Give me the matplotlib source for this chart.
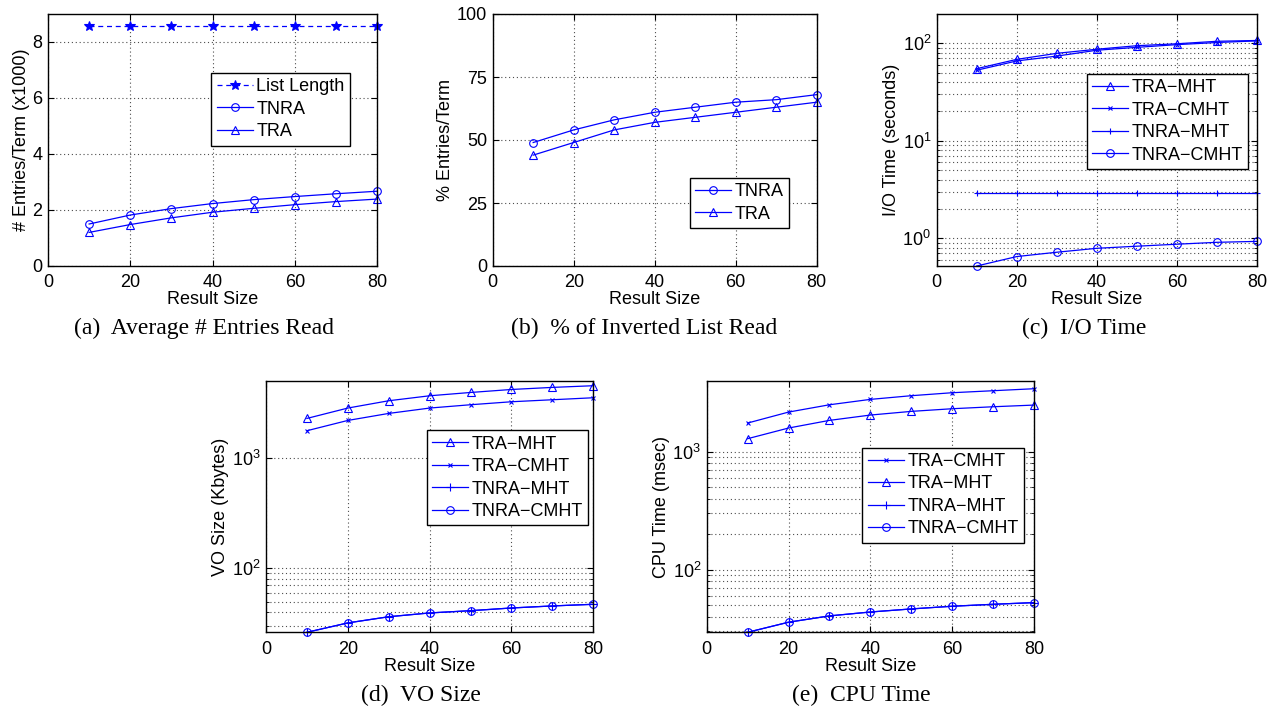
import matplotlib
matplotlib.use("Agg")
import matplotlib.pyplot as plt
from matplotlib.ticker import FixedLocator, NullFormatter, LogLocator

plt.rcParams['font.family'] = ['Liberation Sans', 'DejaVu Sans']
plt.rcParams['mathtext.fontset'] = 'custom'
plt.rcParams['mathtext.rm'] = 'Liberation Sans'

# ---------------- data ----------------
result_size = [10, 20, 30, 40, 50, 60, 70, 80]

# (a) average # entries read (x1000)
a_list_length = [8.57, 8.57, 8.57, 8.57, 8.57, 8.57, 8.57, 8.57]
a_tnra = [1.50, 1.82, 2.05, 2.23, 2.37, 2.48, 2.58, 2.67]
a_tra = [1.20, 1.48, 1.72, 1.92, 2.06, 2.19, 2.30, 2.39]

# (b) % of inverted list read
b_tnra = [49, 54, 58, 61, 63, 65, 66, 68]
b_tra = [44, 49, 54, 57, 59, 61, 63, 65]

# (c) I/O time (seconds)
c_tra_mht = [55, 68.5, 79, 87, 94.6, 99, 105, 107]
c_tra_cmht = [53, 66, 74, 85, 91, 97, 102, 106]
c_tnra_mht = [2.94, 2.94, 2.94, 2.94, 2.94, 2.94, 2.94, 2.94]
c_tnra_cmht = [0.52, 0.65, 0.72, 0.79, 0.83, 0.87, 0.91, 0.93]

# (d) VO size (Kbytes)
d_tra_mht = [2266, 2812, 3274, 3631, 3890, 4140, 4323, 4477]
d_tra_cmht = [1754, 2173, 2515, 2812, 3013, 3206, 3343, 3485]
d_tnra_mht = [26.4, 32.1, 36.5, 39.5, 41.4, 43.8, 45.7, 47.3]
d_tnra_cmht = [26.4, 32.1, 36.5, 39.5, 41.4, 43.8, 45.7, 47.3]

# (e) CPU time (msec)
e_tra_cmht = [1750, 2167, 2500, 2777, 2984, 3163, 3289, 3420]
e_tra_mht = [1289, 1587, 1843, 2045, 2197, 2314, 2405, 2485]
e_tnra_mht = [29.4, 35.8, 40.5, 43.7, 46.4, 48.9, 50.8, 52.5]
e_tnra_cmht = [29.4, 35.8, 40.5, 43.7, 46.4, 48.9, 50.8, 52.5]

x_ticks = [0, 20, 40, 60, 80]

captions = ["(a)  Average # Entries Read", "(b)  % of Inverted List Read",
            "(c)  I/O Time", "(d)  VO Size", "(e)  CPU Time"]
ylabels = ["# Entries/Term (x1000)", "% Entries/Term", "I/O Time (seconds)",
           "VO Size (Kbytes)", "CPU Time (msec)"]

# ---------------- figure ----------------
W, H = 1273, 706
fig = plt.figure(figsize=(W / 100, H / 100), dpi=100)

def px_axes(x0, x1, y0, y1):
    return fig.add_axes([x0 / W, 1 - y1 / H, (x1 - x0) / W, (y1 - y0) / H])

BLUE = (0.0, 0.0, 1.0)
LW = 0.9
FS = 13
grid_kw = dict(linestyle=(0, (1, 2.5)), color='0.3', linewidth=0.8)

def style(ax, ylabel):
    ax.set_xlim(0, 80)
    ax.set_xticks(x_ticks)
    ax.tick_params(direction='in', top=True, right=True, labelsize=FS, length=4, width=0.8, pad=4)
    ax.tick_params(axis='x', pad=6)
    ax.tick_params(which='minor', direction='in', top=True, right=True, length=2, width=0.6)
    for s in ax.spines.values():
        s.set_linewidth(1.0)
    ax.set_xlabel("Result Size", fontsize=FS, labelpad=0)
    ax.set_ylabel(ylabel, fontsize=FS, labelpad=2)
    ax.grid(True, which='major', **grid_kw)
    ax.set_axisbelow(True)

def line(ax, y, marker, label, ms=5.5, ls='-', mfc='none'):
    ax.plot(result_size, y, color=BLUE, linestyle=ls, linewidth=LW, marker=marker,
            markersize=ms, markerfacecolor=mfc, markeredgecolor=BLUE,
            markeredgewidth=0.8, label=label, clip_on=False)

def legend(ax, anchor, loc):
    lg = ax.legend(loc=loc, bbox_to_anchor=anchor, fontsize=FS, frameon=True,
                   fancybox=False, edgecolor='black', framealpha=1,
                   handlelength=2.0, handletextpad=0.2, labelspacing=0.3,
                   borderpad=0.3, borderaxespad=0)
    lg.get_frame().set_linewidth(1.0)

# (a)
ax = px_axes(48, 377, 14, 266)
line(ax, a_list_length, '*', "List Length", ms=7, ls=(0, (4, 3)), mfc=BLUE)
line(ax, a_tnra, 'o', "TNRA")
line(ax, a_tra, '^', "TRA")
ax.set_ylim(0, 9)
ax.set_yticks([0, 2, 4, 6, 8])
style(ax, ylabels[0])
legend(ax, (0.918, 0.766), 'upper right')

# (b)
ax = px_axes(492.7, 816.7, 14, 266)
line(ax, b_tnra, 'o', "TNRA")
line(ax, b_tra, '^', "TRA")
ax.set_ylim(0, 100)
ax.set_yticks([0, 25, 50, 75, 100])
style(ax, ylabels[1])
legend(ax, (0.915, 0.151), 'lower right')

def logstyle(ax, lo, hi, minor_max):
    ax.set_yscale('log')
    ax.set_ylim(lo, hi)
    ax.yaxis.set_major_locator(LogLocator(base=10, numticks=10))
    minors = []
    for dec in [0.1, 1, 10, 100, 1000]:
        for m in range(2, 10):
            v = m * dec
            if lo < v < hi and v < minor_max:
                minors.append(v)
    ax.yaxis.set_minor_locator(FixedLocator(minors))
    ax.yaxis.set_minor_formatter(NullFormatter())
    ax.grid(True, which='minor', axis='y', **grid_kw)

# (c)
ax = px_axes(936.7, 1257, 14, 266)
line(ax, c_tra_mht, '^', "TRA\u2212MHT")
line(ax, c_tra_cmht, 'x', "TRA\u2212CMHT", ms=3.5)
line(ax, c_tnra_mht, '+', "TNRA\u2212MHT", ms=5)
line(ax, c_tnra_cmht, 'o', "TNRA\u2212CMHT")
logstyle(ax, 0.52, 200, 1e9)
style(ax, ylabels[2])
legend(ax, (0.973, 0.762), 'upper right')

# (d)
ax = px_axes(266, 593.3, 380.7, 632.3)
line(ax, d_tra_mht, '^', "TRA\u2212MHT")
line(ax, d_tra_cmht, 'x', "TRA\u2212CMHT", ms=3.5)
line(ax, d_tnra_mht, '+', "TNRA\u2212MHT", ms=6)
line(ax, d_tnra_cmht, 'o', "TNRA\u2212CMHT")
logstyle(ax, 26.4, 4970, 100)
style(ax, ylabels[3])
legend(ax, (0.985, 0.803), 'upper right')

# (e)
ax = px_axes(706.7, 1034, 380.7, 632.3)
line(ax, e_tra_cmht, 'x', "TRA\u2212CMHT", ms=3.5)
line(ax, e_tra_mht, '^', "TRA\u2212MHT")
line(ax, e_tnra_mht, '+', "TNRA\u2212MHT", ms=6)
line(ax, e_tnra_cmht, 'o', "TNRA\u2212CMHT")
logstyle(ax, 29.4, 4000, 1000)
style(ax, ylabels[4])
legend(ax, (0.970, 0.734), 'upper right')

# captions
cap_pos = [(204, 328), (644.5, 328), (1084.5, 328), (421, 695), (861.5, 695)]
for (cx, cy), txt in zip(cap_pos, captions):
    fig.text(cx / W, 1 - cy / H, txt, ha='center', va='center', fontsize=17,
             family=['Liberation Serif', 'DejaVu Serif'])

fig.savefig("out.png", dpi=100)
